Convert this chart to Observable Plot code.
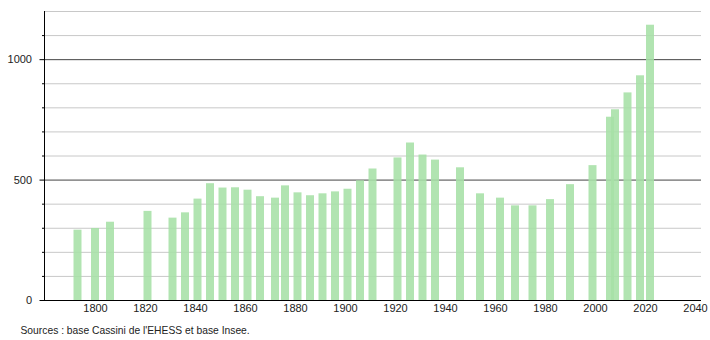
<!DOCTYPE html>
<html>
<head>
<meta charset="utf-8">
<script src="https://cdn.jsdelivr.net/npm/d3@7"></script>
<script src="https://cdn.jsdelivr.net/npm/@observablehq/plot@0.6"></script>
<style>
  html, body { margin: 0; padding: 0; background: #fff; }
</style>
</head>
<body>
<div id="chart"></div>
<script>
const years = [1793, 1800, 1806, 1821, 1831, 1836, 1841, 1846, 1851, 1856, 1861, 1866, 1872, 1876, 1881, 1886, 1891, 1896, 1901, 1906, 1911, 1921, 1926, 1931, 1936, 1946, 1954, 1962, 1968, 1975, 1982, 1990, 1999, 2006, 2008, 2013, 2018, 2022];
const population = [292, 299, 325, 370, 342, 364, 421, 485, 467, 468, 458, 431, 425, 476, 447, 435, 443, 451, 462, 497, 546, 592, 654, 604, 583, 551, 443, 425, 393, 393, 419, 481, 560, 761, 792, 862, 933, 1143];
const xTicks = [1800, 1820, 1840, 1860, 1880, 1900, 1920, 1940, 1960, 1980, 2000, 2020, 2040];
const yLabelTicks = [0, 500, 1000];
const yMinorTicks = [100, 200, 300, 400, 600, 700, 800, 900, 1100];
const gridMinor = [100, 200, 300, 400, 600, 700, 800, 900, 1100, 1200];
const gridMajor = [500, 1000];
const caption = "Sources : base Cassini de l'EHESS et base Insee.";

const data = years.map((y, i) => ({year: y, pop: population[i]}));
const xMin = 1779.6, xMax = 2042.4;
const half = 1.6;

const chart = Plot.plot({
  width: 710,
  height: 340,
  marginLeft: 44,
  marginRight: 9,
  marginTop: 11,
  marginBottom: 40,
  style: {fontFamily: "'Liberation Sans', Arial, sans-serif", fontSize: "11px", color: "#222", background: "#fff"},
  x: {domain: [xMin, xMax]},
  y: {domain: [0, 1200]},
  marks: [
    Plot.ruleY(gridMinor, {stroke: "#c8c8c8", strokeWidth: 1}),
    Plot.ruleY(gridMajor, {stroke: "#444", strokeWidth: 1}),
    Plot.rectY(data, {x1: d => d.year - half, x2: d => d.year + half, y: "pop", fill: "#a6e0a6", fillOpacity: 0.88}),
    Plot.ruleY([0], {stroke: "#000", strokeWidth: 1}),
    Plot.ruleX([xMin], {y1: 0, y2: 1200, stroke: "#000", strokeWidth: 1}),
    Plot.axisY({ticks: yLabelTicks, tickSize: 4.5, tickPadding: 8, tickFormat: d => String(d), label: null, stroke: "#000"}),
    Plot.axisY({ticks: yMinorTicks, tickSize: 2, tickFormat: () => "", label: null, stroke: "#000"}),
    Plot.axisX({ticks: xTicks, tickSize: 0, tickPadding: 4, tickFormat: d => String(d), label: null}),
    Plot.text([caption], {frameAnchor: "bottom-left", dx: -24, dy: 33, lineAnchor: "bottom", textAnchor: "start", fill: "#222", fontSize: 10.3})
  ]
});
document.getElementById("chart").appendChild(chart);
</script>
</body>
</html>
